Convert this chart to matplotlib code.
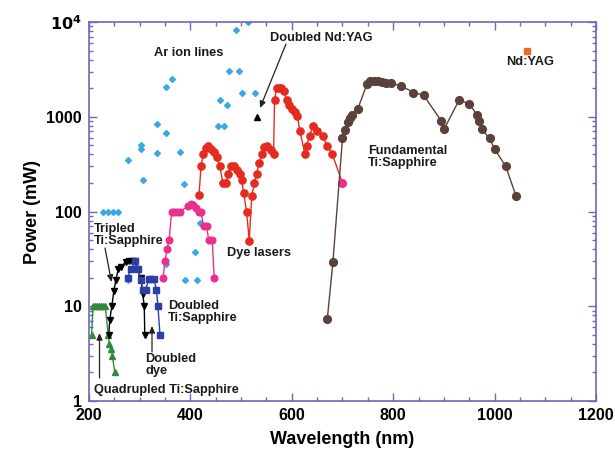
import matplotlib
matplotlib.use("Agg")
import matplotlib.pyplot as plt
from matplotlib.ticker import FixedLocator, FuncFormatter, MultipleLocator, LogLocator, NullFormatter

plt.rcParams['font.family'] = ['Liberation Sans', 'DejaVu Sans']

# ---- data ----
ar_wl = [228, 238, 248, 258, 276, 276, 303, 303, 306, 335, 335, 351, 351, 351, 364, 379, 387,
         390, 409, 414, 418, 454, 466, 458, 472, 477, 496, 501, 527, 489, 514]
ar_p = [100, 100, 100, 100, 352, 19, 500, 453, 213, 838, 417, 676, 2040, 28, 2500, 420, 194,
        19, 37, 19, 75, 798, 798, 1500, 1320, 3020, 3020, 1800, 1800, 8240, 10000]

quad_wl = [205, 208, 212, 216, 220, 224, 228, 232, 238, 240, 243, 246, 251]
quad_p = [5, 10, 10, 10, 10, 10, 10, 10, 5, 4, 3.5, 3, 2]

trip_wl = [239, 241, 245, 249, 253, 258, 264, 272, 278, 284, 290, 295, 302, 306, 309, 310]
trip_p = [5, 7.2, 10, 14.5, 19, 25, 26, 29.5, 30, 30, 30, 25, 20, 13.5, 10, 5]

dts_wl = [276, 283, 291, 297, 302, 306, 312, 318, 322, 328, 333, 336, 340]
dts_p = [20, 25, 30, 25, 19, 15, 15, 19.5, 19.5, 19.5, 15, 10, 5]

pink_wl = [346, 350, 354, 358, 363, 368, 374, 380, 396, 401, 406, 412, 417, 421, 426, 432, 436, 443, 447]
pink_p = [20, 30, 40, 50, 100, 100, 100, 100, 115, 121, 117, 108, 100, 98, 70, 70, 50, 50, 20]

red_wl = [417, 421, 425, 430, 435, 441, 447, 452, 458, 464, 470, 475, 480, 486, 492, 497, 501,
          505, 511, 516, 521, 526, 531, 535, 541, 546, 552, 558, 564, 566, 570, 574, 578, 584,
          590, 595, 600, 606, 611, 616, 626, 629, 635, 641, 650, 661, 670, 680, 700]
red_p = [150, 300, 400, 465, 495, 455, 420, 380, 300, 200, 200, 250, 300, 300, 275, 250, 215,
         158, 98, 49, 146, 198, 250, 323, 400, 480, 495, 445, 405, 1500, 2000, 2000, 2000, 1860,
         1500, 1320, 1220, 1115, 1010, 710, 400, 495, 620, 800, 710, 620, 495, 400, 200]

fund_wl = [670, 681, 700, 705, 710, 714, 718, 730, 748, 755, 762, 770, 778, 785, 795, 815, 840,
           860, 895, 900, 930, 950, 965, 970, 975, 990, 1000, 1022, 1042]
fund_p = [7.3, 29, 590, 730, 890, 960, 1050, 1200, 2200, 2380, 2400, 2400, 2350, 2250, 2250,
          2130, 1800, 1690, 900, 734, 1500, 1370, 1050, 900, 734, 590, 455, 300, 147]

ndyag_wl = [1064]
ndyag_p = [5000]
dndyag_wl = [532]
dndyag_p = [1000]

xticks = [200, 400, 600, 800, 1000, 1200]
yticks = [1, 10, 100, 1000, 10000]

# ---- figure ----
fig = plt.figure(figsize=(6.15, 4.58), dpi=100)
ax = fig.add_axes([89/615, 1-401/458, (596-89)/615, (401-22)/458])

frame = '#6a6ab8'
c_blue = '#3aa8e2'
c_red = '#e52b20'
c_pink = '#ec2f8c'
c_brown = '#5b4139'
c_green = '#2f8a3c'
c_navy = '#2c3fa6'

ax.plot(ar_wl, ar_p, linestyle='none', marker='D', ms=3.0, color=c_blue, mec=c_blue)
ax.plot(quad_wl, quad_p, '-', marker='^', ms=4.5, color=c_green, lw=1.0)
ax.plot(trip_wl, trip_p, '-', marker='v', ms=4.8, color='black', lw=1.0)
ax.plot(dts_wl, dts_p, '-', marker='s', ms=4.5, color=c_navy, lw=1.0)
ax.plot(pink_wl, pink_p, '-', marker='o', ms=4.8, color=c_pink, lw=1.0)
ax.plot(red_wl, red_p, '-', marker='o', ms=5.2, color=c_red, lw=1.0)
ax.plot(red_wl[-1:], red_p[-1:], linestyle='none', marker='o', ms=5.2, color=c_pink)
ax.plot(fund_wl, fund_p, '-', marker='o', ms=5.6, color=c_brown, lw=1.0)
ax.plot(ndyag_wl, ndyag_p, linestyle='none', marker='s', ms=5, color='#ee6a1c')
ax.plot(dndyag_wl, dndyag_p, linestyle='none', marker='^', ms=5, color='black')

ax.set_yscale('log')
ax.set_xlim(200, 1200)
ax.set_ylim(1, 10000)

ax.xaxis.set_major_locator(FixedLocator(xticks))
ax.xaxis.set_minor_locator(MultipleLocator(50))
ax.yaxis.set_major_locator(FixedLocator(yticks))
ax.yaxis.set_minor_locator(LogLocator(base=10, subs=range(2, 10)))
ax.yaxis.set_minor_formatter(NullFormatter())

def yfmt(v, pos):
    if v >= 10000:
        return r'$\mathbf{10^{4}}$'
    return '%d' % v
ax.yaxis.set_major_formatter(FuncFormatter(yfmt))

for s in ax.spines.values():
    s.set_color(frame)
    s.set_linewidth(1.2)
ax.tick_params(which='both', direction='in', top=True, right=True, color=frame, width=1.0)
ax.tick_params(which='major', length=6, labelsize=11.5, pad=5)
ax.tick_params(which='minor', length=3)
for lab in ax.get_xticklabels() + ax.get_yticklabels():
    lab.set_fontweight('bold')

ax.set_xlabel('Wavelength (nm)', fontsize=13, fontweight='bold', labelpad=6)
ax.set_ylabel('Power (mW)', fontsize=13, fontweight='bold', labelpad=4)

fs = 9.2

def txt(x, y, s, ha='left', va='center', **kw):
    # position in pixel coordinates of the 615x458 figure
    fig.text(x/615, 1-y/458, s, ha=ha, va=va, fontsize=fs, fontweight='bold',
             color='#1a1a1a', linespacing=1.0, **kw)

txt(154, 53, 'Ar ion lines')
txt(270, 38, 'Doubled Nd:YAG')
txt(506, 62, 'Nd:YAG')
txt(368, 157, 'Fundamental\nTi:Sapphire')
txt(227, 253, 'Dye lasers')
txt(94, 235, 'Tripled\nTi:Sapphire')
txt(168, 312, 'Doubled\nTi:Sapphire')
txt(145, 365, 'Doubled\ndye')
txt(94, 390, 'Quadrupled Ti:Sapphire')

def arrow(x0, y0, x1, y1):
    fig.add_artist(matplotlib.patches.FancyArrowPatch(
        (x0/615, 1-y0/458), (x1/615, 1-y1/458), transform=fig.transFigure,
        arrowstyle='-|>,head_length=4,head_width=1.8', color='#222222', lw=0.9,
        shrinkA=0, shrinkB=0))

arrow(286, 44, 260, 108)
arrow(105, 248, 111.5, 282)
arrow(99.5, 378, 99.5, 333)
arrow(152, 352, 152, 326)

fig.savefig('out.png', dpi=100)
